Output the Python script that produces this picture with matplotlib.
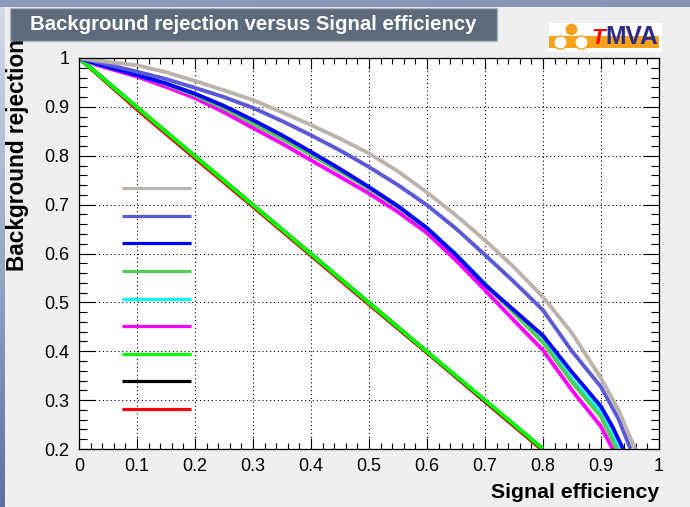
import numpy as np
import matplotlib
matplotlib.use("Agg")
import matplotlib.pyplot as plt
from matplotlib.patches import Rectangle, Circle
from matplotlib.ticker import MultipleLocator, FixedLocator, FixedFormatter
from matplotlib.colors import LinearSegmentedColormap

plt.rcParams['font.family'] = ['Liberation Sans', 'DejaVu Sans']

# ---------------- data ----------------
x_gray = [0.0, 0.03, 0.1, 0.15, 0.2, 0.25, 0.3, 0.35, 0.4, 0.45, 0.5, 0.55, 0.6, 0.65, 0.7, 0.75, 0.8, 0.85, 0.9, 0.93, 0.959]
y_gray = [1.0, 0.995, 0.985, 0.971, 0.953, 0.934, 0.914, 0.889, 0.863, 0.835, 0.805, 0.768, 0.725, 0.678, 0.627, 0.572, 0.511, 0.437, 0.345, 0.28, 0.2]

x_slate = [0.0, 0.03, 0.1, 0.15, 0.2, 0.25, 0.3, 0.35, 0.4, 0.45, 0.5, 0.55, 0.6, 0.65, 0.7, 0.75, 0.8, 0.85, 0.9, 0.93, 0.951]
y_slate = [1.0, 0.992, 0.972, 0.957, 0.939, 0.92, 0.898, 0.871, 0.842, 0.811, 0.777, 0.74, 0.699, 0.651, 0.597, 0.542, 0.484, 0.40, 0.327, 0.262, 0.2]

x_blue = [0.0, 0.03, 0.1, 0.15, 0.2, 0.25, 0.3, 0.35, 0.4, 0.45, 0.5, 0.55, 0.6, 0.65, 0.7, 0.75, 0.8, 0.85, 0.9, 0.92, 0.938]
y_blue = [1.0, 0.988, 0.965, 0.948, 0.927, 0.902, 0.873, 0.842, 0.808, 0.773, 0.736, 0.697, 0.652, 0.597, 0.536, 0.484, 0.432, 0.357, 0.287, 0.245, 0.2]

x_green = [0.0, 0.03, 0.1, 0.15, 0.2, 0.25, 0.3, 0.35, 0.4, 0.45, 0.5, 0.55, 0.6, 0.65, 0.7, 0.75, 0.8, 0.85, 0.9, 0.927]
y_green = [1.0, 0.988, 0.967, 0.947, 0.924, 0.897, 0.866, 0.835, 0.802, 0.768, 0.733, 0.695, 0.652, 0.598, 0.538, 0.478, 0.418, 0.337, 0.266, 0.2]

x_cyan = [0.0, 0.03, 0.1, 0.15, 0.2, 0.25, 0.3, 0.35, 0.4, 0.45, 0.5, 0.55, 0.6, 0.65, 0.7, 0.75, 0.8, 0.85, 0.9, 0.93]
y_cyan = [1.0, 0.988, 0.966, 0.947, 0.925, 0.899, 0.869, 0.838, 0.805, 0.770, 0.734, 0.696, 0.652, 0.598, 0.537, 0.481, 0.424, 0.342, 0.275, 0.2]

x_magenta = [0.0, 0.03, 0.1, 0.15, 0.2, 0.25, 0.3, 0.35, 0.4, 0.45, 0.5, 0.55, 0.6, 0.65, 0.7, 0.75, 0.8, 0.85, 0.9, 0.92]
y_magenta = [1.0, 0.986, 0.962, 0.941, 0.918, 0.889, 0.857, 0.825, 0.791, 0.757, 0.723, 0.685, 0.642, 0.586, 0.525, 0.463, 0.402, 0.320, 0.246, 0.2]

x_lime = [0.0, 0.1, 0.2, 0.3, 0.4, 0.5, 0.6, 0.7, 0.8]
y_lime = [1.0, 0.899, 0.799, 0.699, 0.599, 0.499, 0.399, 0.300, 0.2]

x_black = [0.0, 0.1, 0.2, 0.3, 0.4, 0.5, 0.6, 0.7, 0.8]
y_black = [1.0, 0.899, 0.799, 0.699, 0.599, 0.499, 0.399, 0.299, 0.2]

x_red = [0.0, 0.1, 0.2, 0.3, 0.4, 0.5, 0.6, 0.7, 0.8]
y_red = [1.0, 0.895, 0.795, 0.696, 0.596, 0.496, 0.397, 0.297, 0.197]

series_x = [x_gray, x_slate, x_blue, x_green, x_cyan, x_magenta, x_lime, x_black, x_red]
series_y = [y_gray, y_slate, y_blue, y_green, y_cyan, y_magenta, y_lime, y_black, y_red]
series_colors = ['#bdb3ab', '#5a5ad6', '#0000ff', '#55cc55', '#00ffff', '#ff00ff', '#00ff00', '#000000', '#ff0000']
legend_labels = [''] * 9

x_ticks = [0.0, 0.1, 0.2, 0.3, 0.4, 0.5, 0.6, 0.7, 0.8, 0.9, 1.0]
x_ticklabels = ['0', '0.1', '0.2', '0.3', '0.4', '0.5', '0.6', '0.7', '0.8', '0.9', '1']
y_ticks = [0.2, 0.3, 0.4, 0.5, 0.6, 0.7, 0.8, 0.9, 1.0]
y_ticklabels = ['0.2', '0.3', '0.4', '0.5', '0.6', '0.7', '0.8', '0.9', '1']

title_text = 'Background rejection versus Signal efficiency'
xlabel_text = 'Signal efficiency'
ylabel_text = 'Background rejection'

# ---------------- figure ----------------
W, H = 690, 507
fig = plt.figure(figsize=(W / 100, H / 100), dpi=100)
fig.patch.set_facecolor('#efefef')

bg = fig.add_axes([0, 0, 1, 1], zorder=0)
bg.set_xlim(0, W)
bg.set_ylim(H, 0)
bg.axis('off')

grad = np.linspace(0, 1, 256).reshape(-1, 1)
cm_left = LinearSegmentedColormap.from_list('l', ['#d6dce8', '#9aa8c8', '#5f6f9f'])
bg.imshow(grad, extent=(0, 5, H, 0), cmap=cm_left, aspect='auto', origin='upper', zorder=1)
cm_top = LinearSegmentedColormap.from_list('t', ['#8d9cbc', '#8494b6'])
bg.imshow(np.linspace(0, 1, 256).reshape(1, -1), extent=(0, W, 7, 0), cmap=cm_top, aspect='auto', zorder=1)

# title box
bg.add_patch(Rectangle((10, 8), 487, 33, facecolor='#5d6a7b', edgecolor='#aab4c0', lw=1, zorder=2))
t_title = bg.text(30, 24.5, title_text, color='white', fontsize=13.5, fontweight='bold',
                  ha='left', va='center', zorder=3)

# TMVA logo
bg.add_patch(Rectangle((549, 23), 113, 29, facecolor='white', edgecolor='none', zorder=2))
bg.add_patch(Rectangle((549, 35.5), 110, 12.5, facecolor='#f7a21b', edgecolor='none', zorder=3))
bg.add_patch(Circle((571.5, 29.5), 5.8, facecolor='#f7a21b', edgecolor='none', zorder=4))
bg.add_patch(Circle((560.5, 42.5), 6.6, facecolor='white', edgecolor='#f7a21b', lw=1, zorder=4))
bg.add_patch(Circle((581.5, 42.5), 6.6, facecolor='white', edgecolor='#f7a21b', lw=1, zorder=4))
bg.text(605, 44, 'T', color='#ff0000', fontsize=16, fontweight='bold', style='italic',
        ha='right', va='baseline', zorder=5)
t_mva = bg.text(605, 44, 'MVA', color='#2b2b8c', fontsize=16, fontweight='bold',
                ha='left', va='baseline', zorder=5)

# main axes
L, R, T, B = 79, 659, 58, 449
ax = fig.add_axes([L / W, 1 - B / H, (R - L) / W, (B - T) / H], zorder=1)
ax.set_facecolor('white')

lines = []
for i in range(len(series_x)):
    ln, = ax.plot(series_x[i], series_y[i], color=series_colors[i], lw=2.8,
                  zorder=20 - i, solid_joinstyle='round', solid_capstyle='butt')
    lines.append(ln)

ax.set_xlim(0, 1)
ax.set_ylim(0.2, 1)
ax.xaxis.set_major_locator(FixedLocator(x_ticks))
ax.xaxis.set_major_formatter(FixedFormatter(x_ticklabels))
ax.yaxis.set_major_locator(FixedLocator(y_ticks))
ax.yaxis.set_major_formatter(FixedFormatter(y_ticklabels))
ax.xaxis.set_minor_locator(MultipleLocator(0.02))
ax.yaxis.set_minor_locator(MultipleLocator(0.02))
ax.tick_params(which='both', direction='in', top=True, right=True, width=0.8, color='black')
ax.tick_params(axis='x', which='major', length=8, pad=6.5, labelsize=13)
ax.tick_params(axis='x', which='minor', length=4)
ax.tick_params(axis='y', which='major', length=11.5, pad=7, labelsize=13)
ax.tick_params(axis='y', which='minor', length=5.8)
for s in ax.spines.values():
    s.set_linewidth(0.9)
    s.set_zorder(30)
ax.grid(True, which='major', color='black', lw=0.8, linestyle=(0, (1, 2.5)), zorder=1)
ax.set_axisbelow(True)

leg = ax.legend(lines, legend_labels, loc='upper left', bbox_to_anchor=(122 / W, 1 - 182 / H),
                bbox_transform=fig.transFigure, frameon=False, fontsize=10,
                handlelength=4.95, handletextpad=0, labelspacing=0.98,
                borderpad=0, borderaxespad=0, handleheight=0.7)
for h in leg.legend_handles:
    h.set_linewidth(2.3)

t_xl = fig.text(R / W, 1 - 498 / H, xlabel_text, fontsize=15, fontweight='bold', ha='right', va='baseline')
t_yl = fig.text(18 / W, 1 - 39 / H, ylabel_text, fontsize=15, fontweight='bold', rotation=90,
                ha='center', va='top')

# fit text widths to the reference
fig.canvas.draw()
r = fig.canvas.get_renderer()
for t, target, horiz in [(t_title, 445, True), (t_xl, 169, True), (t_yl, 234, False), (t_mva, 53, True)]:
    bb = t.get_window_extent(r)
    size = bb.width if horiz else bb.height
    t.set_fontsize(t.get_fontsize() * target / size)

fig.savefig('out.png', dpi=100, facecolor=fig.get_facecolor())
